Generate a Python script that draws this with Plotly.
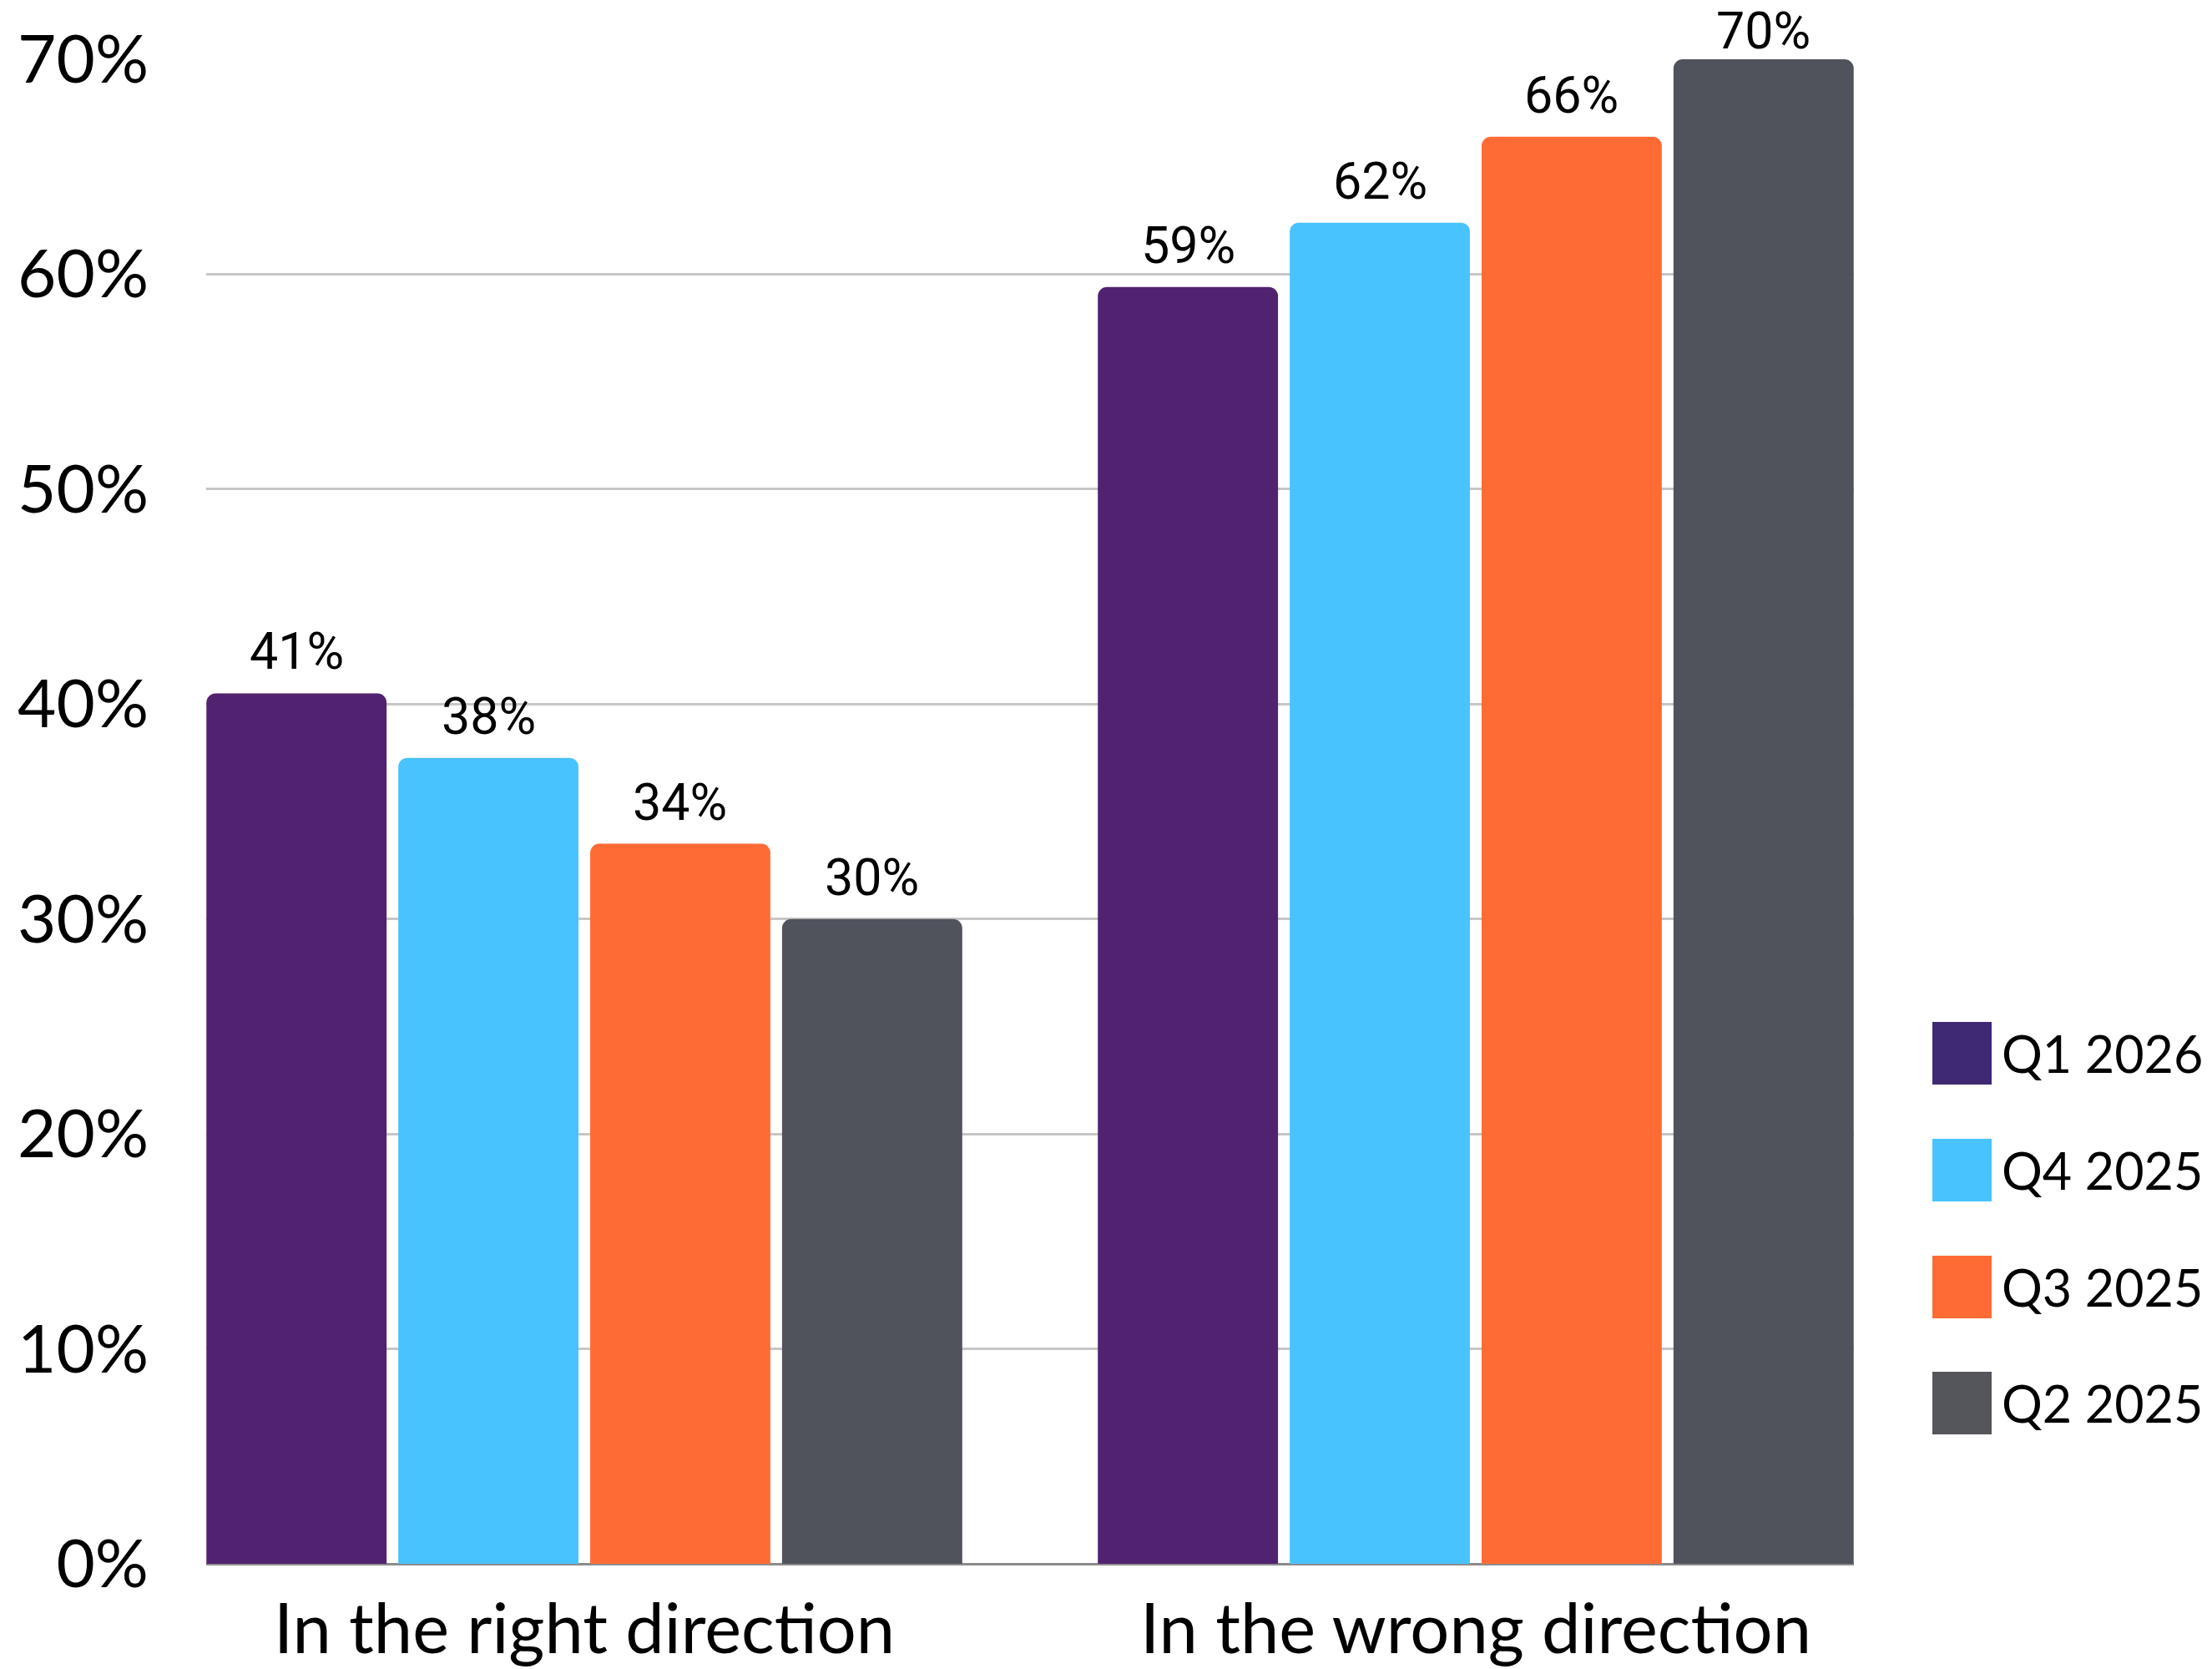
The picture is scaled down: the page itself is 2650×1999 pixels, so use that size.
import plotly.graph_objects as go

categories = ["In the right direction", "In the wrong direction"]
series_names = ["Q1 2026", "Q4 2025", "Q3 2025", "Q2 2025"]
q1_2026 = [40.5, 59.4]
q4_2025 = [37.5, 62.4]
q3_2025 = [33.5, 66.4]
q2_2025 = [30.0, 70.0]
bar_colors = ["#512270", "#49C3FE", "#FF6B35", "#50535C"]
legend_colors = ["#3F2874", "#49C3FE", "#FF6B35", "#55565C"]
y_ticks = [0, 10, 20, 30, 40, 50, 60, 70]

W, H = 2650, 1999
ML, MR, MT, MB = 247, 429, 71, 126
PW, PH = W - ML - MR, H - MT - MB
X_RANGE = [-0.4242, 1.4242]
Y_RANGE = [0, 70]
BARGAP, GROUPGAP = 0.139, 0.061

series_vals = [q1_2026, q4_2025, q3_2025, q2_2025]

fig = go.Figure()
for name, vals, col in zip(series_names, series_vals, bar_colors):
    fig.add_trace(go.Bar(
        x=categories, y=vals, name=name,
        marker=dict(color=col, line=dict(width=0)),
        cliponaxis=False, showlegend=False, hoverinfo="x+y+name",
    ))

# value labels above bars (at the bar's data value, shifted to the bar's slot);
# labels that would leave the canvas are nudged down like in the source chart
px_per_cat = PW / (X_RANGE[1] - X_RANGE[0])
n = len(series_names)
slot_px = px_per_cat * (1 - BARGAP) / n
LABEL_SHIFT, MIN_CENTER = 50, 37
for i, vals in enumerate(series_vals):
    for cat, v in zip(categories, vals):
        bar_top_px = MT + (Y_RANGE[1] - v) / (Y_RANGE[1] - Y_RANGE[0]) * PH
        shift = min(LABEL_SHIFT, bar_top_px - MIN_CENTER)
        label = f"{int(v) + 1}%" if v % 1 == 0.5 else f"{v:.0f}%"
        fig.add_annotation(
            x=cat, y=v, xref="x", yref="y",
            text=label,
            showarrow=False, xanchor="center", yanchor="middle",
            xshift=(i - (n - 1) / 2) * slot_px, yshift=shift,
            font=dict(family="Roboto", size=61, color="#000000"),
        )

# manual legend with large swatches
def px_x(p):
    return (p - ML) / PW

def px_y(p):
    return (H - MB - p) / PH

sw_left, sw_w, sw_h = 2315, 71, 75
row_tops = [1224, 1364, 1504, 1643]
for name, col, top in zip(series_names, legend_colors, row_tops):
    fig.add_shape(type="rect", xref="paper", yref="paper",
                  x0=px_x(sw_left), x1=px_x(sw_left + sw_w),
                  y0=px_y(top + sw_h), y1=px_y(top),
                  fillcolor=col, line=dict(width=0))
    fig.add_annotation(xref="paper", yref="paper",
                       x=px_x(sw_left + sw_w + 10), y=px_y(top + sw_h / 2),
                       text=name, showarrow=False, xanchor="left", yanchor="middle",
                       font=dict(family="Lato", size=61, color="#000000"))

fig.update_layout(
    width=W, height=H,
    margin=dict(l=ML, r=MR, t=MT, b=MB, pad=0),
    paper_bgcolor="white", plot_bgcolor="white",
    barmode="group", bargap=BARGAP, bargroupgap=GROUPGAP,
    barcornerradius=11,
    xaxis=dict(range=X_RANGE, showgrid=False, showline=False, automargin=False,
               tickfont=dict(family="Lato", size=83, color="#000000"),
               ticks="outside", ticklen=6, tickcolor="rgba(0,0,0,0)"),
    yaxis=dict(range=Y_RANGE, tickvals=y_ticks, ticktext=[f"{v}%" for v in y_ticks],
               showgrid=True, gridcolor="#C6C6C6", gridwidth=3,
               zeroline=True, zerolinecolor="#8C8C8C", zerolinewidth=3,
               showline=False, automargin=False,
               tickfont=dict(family="Lato", size=80, color="#000000"),
               ticks="outside", ticklen=52, tickcolor="rgba(0,0,0,0)"),
)

fig.write_html("out.html", config={"displayModeBar": False},
               post_script="document.body.style.margin='0';document.body.style.overflow='hidden';")
